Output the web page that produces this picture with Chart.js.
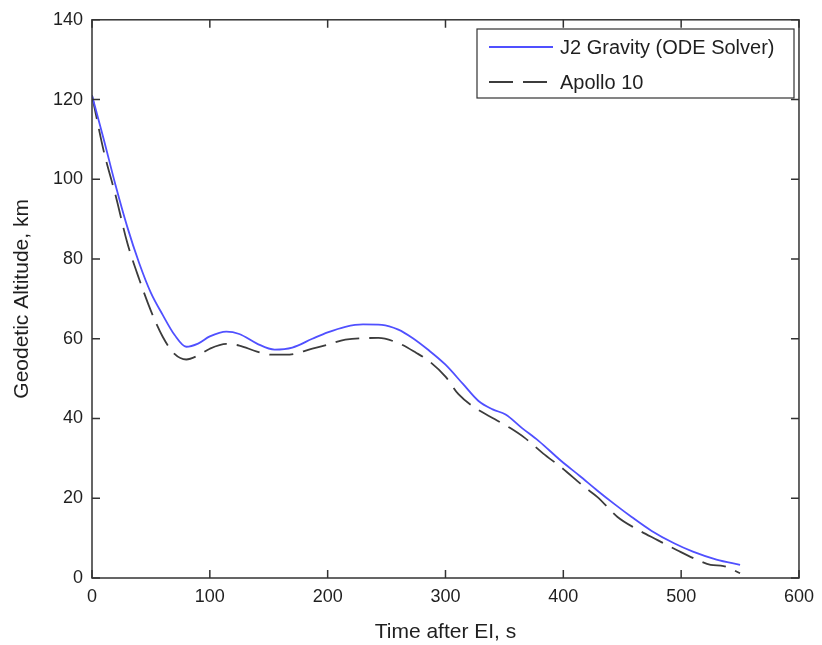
<!DOCTYPE html>
<html>
<head>
<meta charset="utf-8">
<script src="https://cdn.jsdelivr.net/npm/chart.js@4"></script>
<style>
  html, body { margin: 0; padding: 0; background: #fff; }
  #wrap { width: 822px; height: 645px; position: relative; }
</style>
</head>
<body>
<div id="wrap"><canvas id="chart" width="822" height="645"></canvas></div>
<script>
// ===== DATA =====
const seriesNames = ['J2 Gravity (ODE Solver)', 'Apollo 10'];

const timeJ2 = [0, 10, 20, 30, 40, 50, 60, 70, 80, 90, 100, 114, 125, 140, 155, 170, 187, 200, 215, 230,
  246, 260, 272, 285, 300, 315, 328, 340, 351, 365, 379, 398, 414, 429, 444, 458, 475, 494, 510, 530, 550];
const altJ2 = [121, 110, 98.5, 88, 79, 71.5, 66, 61, 58, 58.8, 60.6, 61.8, 61.2, 58.8, 57.3, 57.8, 60, 61.6, 63, 63.6,
  63.5, 62.3, 60.2, 57.3, 53.5, 48.6, 44.4, 42.3, 41, 37.6, 34.4, 29.4, 25.6, 21.9, 18.4, 15.3, 11.8, 8.7, 6.6, 4.6, 3.3];

const timeApollo = [0, 10, 20, 30, 40, 50, 60, 70, 80, 90, 100, 114, 125, 140, 153, 165, 187, 200, 215, 243,
  260, 275, 286, 300, 311, 325, 342, 355, 367, 383, 398, 418, 429, 446, 462, 480, 497, 514, 525, 536, 550];
const altApollo = [121, 107, 96, 84, 75, 67, 60.5, 56.2, 54.8, 55.8, 57.5, 58.7, 58.3, 56.8, 56, 56, 57.5, 58.5, 59.8, 60.2,
  58.9, 56.5, 54.4, 50.5, 46.1, 42.7, 39.8, 37.6, 35.2, 31.2, 27.8, 22.8, 20.3, 15.3, 12.3, 9.5, 6.9, 4.5, 3.3, 3.0, 1.2];

const xTicks = [0, 100, 200, 300, 400, 500, 600];
const yTicks = [0, 20, 40, 60, 80, 100, 120, 140];

const xTitle = 'Time after EI, s';
const yTitle = 'Geodetic Altitude, km';

// ===== STYLE =====
const FONT = '"Liberation Sans", Arial, Helvetica, sans-serif';
const TXT = '#1f1f1f';
const AXIS = '#333';
const BLUE = 'rgb(80,80,255)';
const DASH = '#3c3c3c';
const DASH_PATTERN = [24, 10];

const toPts = (xs, ys) => xs.map((x, i) => ({ x, y: ys[i] }));

// frame with inward ticks, MATLAB style
const frameTicks = {
  id: 'frameTicks',
  afterDatasetsDraw(chart) {
    const { ctx, chartArea: a, scales: { x, y } } = chart;
    const len = 8;
    ctx.save();
    ctx.strokeStyle = AXIS;
    ctx.lineWidth = 1.5;
    ctx.strokeRect(a.left, a.top, a.right - a.left, a.bottom - a.top);
    ctx.beginPath();
    xTicks.forEach(v => {
      const px = x.getPixelForValue(v);
      ctx.moveTo(px, a.bottom); ctx.lineTo(px, a.bottom - len);
      ctx.moveTo(px, a.top); ctx.lineTo(px, a.top + len);
    });
    yTicks.forEach(v => {
      const py = y.getPixelForValue(v);
      ctx.moveTo(a.left, py); ctx.lineTo(a.left + len, py);
      ctx.moveTo(a.right, py); ctx.lineTo(a.right - len, py);
    });
    ctx.stroke();
    ctx.restore();
  }
};

// boxed legend in the upper right corner
const boxLegend = {
  id: 'boxLegend',
  afterDraw(chart) {
    const c = chart.ctx;
    const box = { l: 477, t: 29, r: 794, b: 98 };
    const rows = [47, 82];
    c.save();
    c.fillStyle = '#fff';
    c.fillRect(box.l, box.t, box.r - box.l, box.b - box.t);
    c.strokeStyle = AXIS;
    c.lineWidth = 1.2;
    c.strokeRect(box.l, box.t, box.r - box.l, box.b - box.t);
    chart.data.datasets.forEach((ds, i) => {
      c.beginPath();
      c.strokeStyle = ds.borderColor;
      c.lineWidth = ds.borderWidth;
      c.setLineDash(ds.borderDash || []);
      c.moveTo(489, rows[i]);
      c.lineTo(553, rows[i]);
      c.stroke();
      c.setLineDash([]);
      c.fillStyle = TXT;
      c.font = `20px ${FONT}`;
      c.textBaseline = 'middle';
      c.fillText(ds.label, 560, rows[i] + 1);
    });
    c.restore();
  }
};

new Chart(document.getElementById('chart'), {
  type: 'line',
  data: {
    datasets: [
      {
        label: seriesNames[0],
        data: toPts(timeJ2, altJ2),
        borderColor: BLUE,
        borderWidth: 1.8,
        pointRadius: 0,
        cubicInterpolationMode: 'monotone',
        fill: false
      },
      {
        label: seriesNames[1],
        data: toPts(timeApollo, altApollo),
        borderColor: DASH,
        borderWidth: 1.8,
        borderDash: DASH_PATTERN,
        pointRadius: 0,
        cubicInterpolationMode: 'monotone',
        fill: false
      }
    ]
  },
  options: {
    responsive: false,
    animation: false,
    devicePixelRatio: 1,
    layout: { padding: { top: 17, right: 16, left: 0, bottom: 0 } },
    plugins: { legend: { display: false }, tooltip: { enabled: false } },
    scales: {
      x: {
        type: 'linear',
        min: 0, max: 600,
        afterFit: s => { s.height = 67; },
        afterBuildTicks: s => { s.ticks = xTicks.map(v => ({ value: v })); },
        grid: { display: false, drawTicks: false },
        border: { display: false },
        ticks: { color: TXT, font: { family: FONT, size: 18 }, padding: 8, maxRotation: 0, autoSkip: false },
        title: { display: true, text: xTitle, color: TXT, font: { family: FONT, size: 21, lineHeight: 1.2 }, padding: { top: 0, bottom: 0 } }
      },
      y: {
        type: 'linear',
        min: 0, max: 140,
        afterFit: s => { s.width = 92; },
        afterBuildTicks: s => { s.ticks = yTicks.map(v => ({ value: v })); },
        grid: { display: false, drawTicks: false },
        border: { display: false },
        ticks: { color: TXT, font: { family: FONT, size: 18 }, padding: 9, autoSkip: false },
        title: { display: true, text: yTitle, color: TXT, font: { family: FONT, size: 21, lineHeight: 1.2 }, padding: { top: 10, bottom: 0 } }
      }
    }
  },
  plugins: [frameTicks, boxLegend]
});
</script>
</body>
</html>
